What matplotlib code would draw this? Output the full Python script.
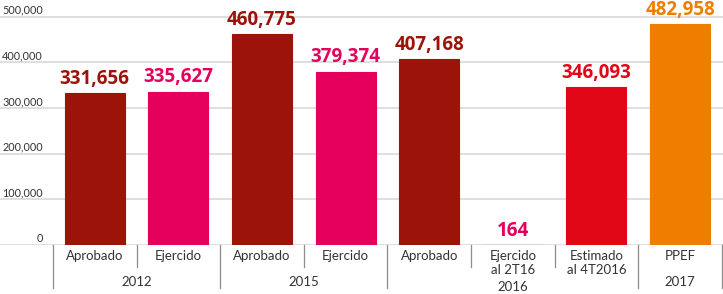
import matplotlib.pyplot as plt
import matplotlib.transforms as mtransforms

# ---------------------------------
# DATA
# ---------------------------------
labels = ["Aprobado", "Ejercido", "Aprobado", "Ejercido", "Aprobado",
          "Ejercido\nal 2T16", "Estimado\nal 4T2016", "PPEF"]
values = [331656, 335627, 460775, 379374, 407168, 164, 346093, 482958]
colors = ["#9B1309", "#E4005B", "#9B1309", "#E4005B", "#9B1309",
          "#E4005B", "#E20717", "#EF7D00"]
years = ["2012", "2015", "2016", "2017"]
year_spans = [(0, 1), (2, 3), (4, 6), (7, 7)]
yticks = [0, 100000, 200000, 300000, 400000, 500000]

W, H = 723, 294
fig = plt.figure(figsize=(W / 100, H / 100), dpi=100)
plt.rcParams['font.family'] = ['Lato', 'DejaVu Sans']

# axes spans the whole width so the gridlines run edge to edge
cell = 83.6
left_px = 53
base_px = 245
ax = fig.add_axes([0, 1 - base_px / H, 1, base_px / H])
x0 = -0.5 - left_px / cell
x1 = x0 + W / cell
ax.set_xlim(x0, x1)
ax.set_ylim(0, base_px / 45.7 * 100000)
ax.axis("off")

# gridlines + tick labels
for t in yticks:
    ax.axhline(t, color="#dcdcdc", lw=1.3, zorder=0)
    ax.text(-0.5 - 10 / cell, t + 1500, f"{t:,}", ha="right", va="bottom",
            fontsize=7.8, color="#333333")

xs = list(range(len(values)))
ax.bar(xs, values, width=60 / cell, color=colors, edgecolor=colors,
       linewidth=0.8, zorder=2)

for x, v, c in zip(xs, values, colors):
    ax.annotate(f"{v:,}", (x, v), xytext=(0, 3), textcoords="offset points",
                ha="center", va="bottom", fontsize=13.5, fontweight="bold",
                family="Open Sans", color=c, annotation_clip=False)

# category axis below
tr = mtransforms.blended_transform_factory(ax.transData, fig.transFigure)


def fy(p):
    return 1 - p / H


sep_col = "#8c8c8c"
group_edges = [s - 0.5 for s, e in year_spans] + [year_spans[-1][1] + 0.5]
for i in range(len(values) + 1):
    edge = i - 0.5
    bottom = 288 if edge in group_edges else 267
    ax.plot([edge, edge], [fy(base_px), fy(bottom)], color=sep_col, lw=0.9,
            transform=tr, clip_on=False)

for x, lab in zip(xs, labels):
    ax.text(x, fy(250), lab, ha="center", va="top", fontsize=9.5,
            color="#333333", transform=tr, linespacing=1.15)

for yr, (s, e) in zip(years, year_spans):
    ypix = 287 if yr == "2016" else 282
    ax.text((s + e) / 2, fy(ypix), yr, ha="center", va="center",
            fontsize=9.5, color="#333333", transform=tr)

fig.savefig("out.png", dpi=100)
